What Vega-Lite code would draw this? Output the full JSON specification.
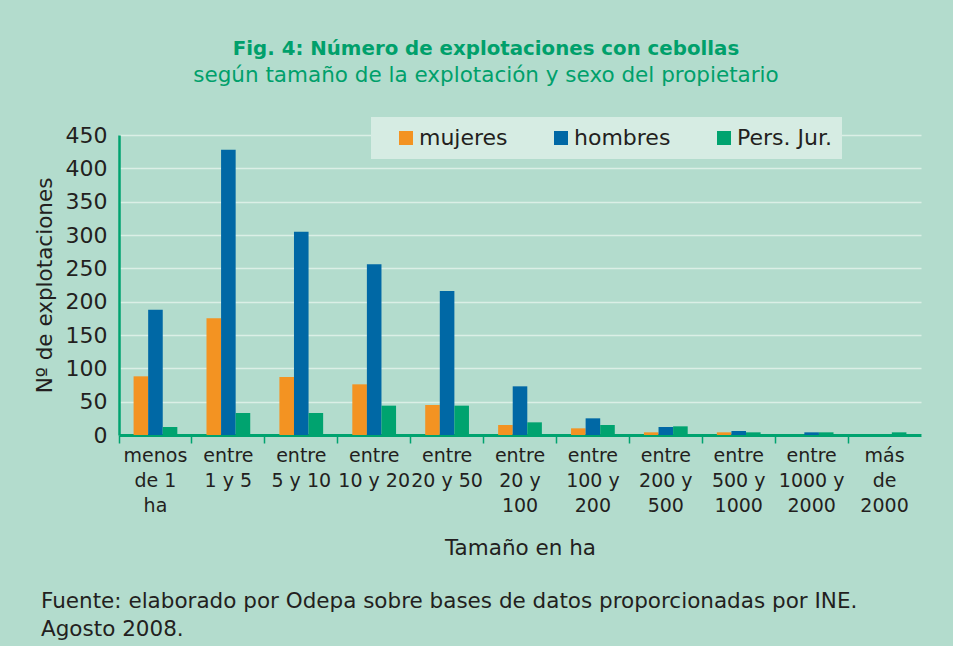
{
  "$schema": "https://vega.github.io/schema/vega-lite/v6.json",
  "background": "#b3dccd",
  "padding": {"left": 34, "top": 38, "right": 32, "bottom": 20},
  "title": {
    "text": ["Fuente: elaborado por Odepa sobre bases de datos proporcionadas por INE.", "Agosto 2008."],
    "orient": "bottom",
    "anchor": "start",
    "frame": "group",
    "font": "DejaVu Sans",
    "fontSize": 21.5,
    "fontWeight": "normal",
    "color": "#231f20",
    "lineHeight": 28,
    "offset": 32,
    "dx": -78
  },
  "data": {
    "values": [
      {"tamano": "menos|de 1|ha", "grupo": "mujeres", "n": 88},
      {"tamano": "menos|de 1|ha", "grupo": "hombres", "n": 188},
      {"tamano": "menos|de 1|ha", "grupo": "Pers. Jur.", "n": 12},
      {"tamano": "entre|1 y 5", "grupo": "mujeres", "n": 175},
      {"tamano": "entre|1 y 5", "grupo": "hombres", "n": 428},
      {"tamano": "entre|1 y 5", "grupo": "Pers. Jur.", "n": 33},
      {"tamano": "entre|5 y 10", "grupo": "mujeres", "n": 87},
      {"tamano": "entre|5 y 10", "grupo": "hombres", "n": 305},
      {"tamano": "entre|5 y 10", "grupo": "Pers. Jur.", "n": 33},
      {"tamano": "entre|10 y 20", "grupo": "mujeres", "n": 76},
      {"tamano": "entre|10 y 20", "grupo": "hombres", "n": 256},
      {"tamano": "entre|10 y 20", "grupo": "Pers. Jur.", "n": 44},
      {"tamano": "entre|20 y 50", "grupo": "mujeres", "n": 45},
      {"tamano": "entre|20 y 50", "grupo": "hombres", "n": 216},
      {"tamano": "entre|20 y 50", "grupo": "Pers. Jur.", "n": 44},
      {"tamano": "entre|20 y|100", "grupo": "mujeres", "n": 15},
      {"tamano": "entre|20 y|100", "grupo": "hombres", "n": 73},
      {"tamano": "entre|20 y|100", "grupo": "Pers. Jur.", "n": 19},
      {"tamano": "entre|100 y|200", "grupo": "mujeres", "n": 10},
      {"tamano": "entre|100 y|200", "grupo": "hombres", "n": 25},
      {"tamano": "entre|100 y|200", "grupo": "Pers. Jur.", "n": 15},
      {"tamano": "entre|200 y|500", "grupo": "mujeres", "n": 4},
      {"tamano": "entre|200 y|500", "grupo": "hombres", "n": 12},
      {"tamano": "entre|200 y|500", "grupo": "Pers. Jur.", "n": 13},
      {"tamano": "entre|500 y|1000", "grupo": "mujeres", "n": 4},
      {"tamano": "entre|500 y|1000", "grupo": "hombres", "n": 6},
      {"tamano": "entre|500 y|1000", "grupo": "Pers. Jur.", "n": 4},
      {"tamano": "entre|1000 y|2000", "grupo": "mujeres", "n": 0},
      {"tamano": "entre|1000 y|2000", "grupo": "hombres", "n": 4},
      {"tamano": "entre|1000 y|2000", "grupo": "Pers. Jur.", "n": 4},
      {"tamano": "más|de|2000", "grupo": "mujeres", "n": 0},
      {"tamano": "más|de|2000", "grupo": "hombres", "n": 0},
      {"tamano": "más|de|2000", "grupo": "Pers. Jur.", "n": 4}
    ]
  },
  "vconcat": [
    {
      "title": {
        "text": "Fig. 4: Número de explotaciones con cebollas",
        "subtitle": "según tamaño de la explotación y sexo del propietario",
        "anchor": "middle",
        "frame": "group",
        "font": "DejaVu Sans",
        "fontSize": 19.8,
        "fontWeight": "bold",
        "color": "#00a06b",
        "subtitleFont": "DejaVu Sans",
        "subtitleFontSize": 21.5,
        "subtitleColor": "#00a06b",
        "subtitlePadding": 6,
        "offset": 38,
        "dx": -34
      },
      "width": 802,
      "height": 300,
      "mark": {"type": "bar"},
      "encoding": {
        "x": {
          "field": "tamano",
          "type": "nominal",
          "sort": null,
          "scale": {"paddingInner": 0.4, "paddingOuter": 0.2},
          "axis": {
            "title": "Tamaño en ha",
            "labelExpr": "split(datum.value, '|')",
            "labelAngle": 0,
            "labelFont": "DejaVu Sans",
            "labelFontSize": 19,
            "labelLineHeight": 25,
            "labelColor": "#231f20",
            "labelPadding": 3,
            "labelLimit": 0,
            "ticks": true,
            "tickSize": 8,
            "tickWidth": 1.5,
            "tickColor": "#00a36f",
            "bandPosition": -0.3333,
            "domainColor": "#00a36f",
            "domainWidth": 3,
            "grid": false,
            "titleFont": "DejaVu Sans",
            "titleFontSize": 21.5,
            "titleFontWeight": "normal",
            "titleColor": "#231f20",
            "titlePadding": 22
          }
        },
        "xOffset": {"field": "grupo", "type": "nominal", "sort": ["mujeres", "hombres", "Pers. Jur."]},
        "y": {
          "field": "n",
          "type": "quantitative",
          "scale": {"domain": [0, 450]},
          "axis": {
            "title": "Nº de explotaciones",
            "values": [0, 50, 100, 150, 200, 250, 300, 350, 400, 450],
            "labelFont": "DejaVu Sans",
            "labelFontSize": 22,
            "labelColor": "#231f20",
            "labelPadding": 12,
            "ticks": false,
            "domainColor": "#00a36f",
            "domainWidth": 2.5,
            "grid": true,
            "gridColor": "#dbefe6",
            "gridWidth": 1.5,
            "titleFont": "DejaVu Sans",
            "titleFontSize": 21.5,
            "titleFontWeight": "normal",
            "titleColor": "#231f20",
            "titlePadding": 9
          }
        },
        "color": {
          "field": "grupo",
          "type": "nominal",
          "sort": ["mujeres", "hombres", "Pers. Jur."],
          "scale": {"domain": ["mujeres", "hombres", "Pers. Jur."], "range": ["#f39322", "#0068a5", "#00a36f"]},
          "legend": {
            "title": null,
            "orient": "none",
            "legendX": 252,
            "legendY": -18,
            "direction": "horizontal",
            "fillColor": "#d6ece3",
            "padding": 10,
            "symbolType": "square",
            "symbolSize": 196,
            "symbolStrokeWidth": 0,
            "symbolOffset": 14,
            "labelOffset": 2,
            "columnPadding": 28,
            "labelFont": "DejaVu Sans",
            "labelFontSize": 22,
            "labelColor": "#231f20"
          }
        }
      }
    }
  ],
  "config": {
    "view": {"stroke": null},
    "axis": {"gridCap": "butt"}
  }
}
